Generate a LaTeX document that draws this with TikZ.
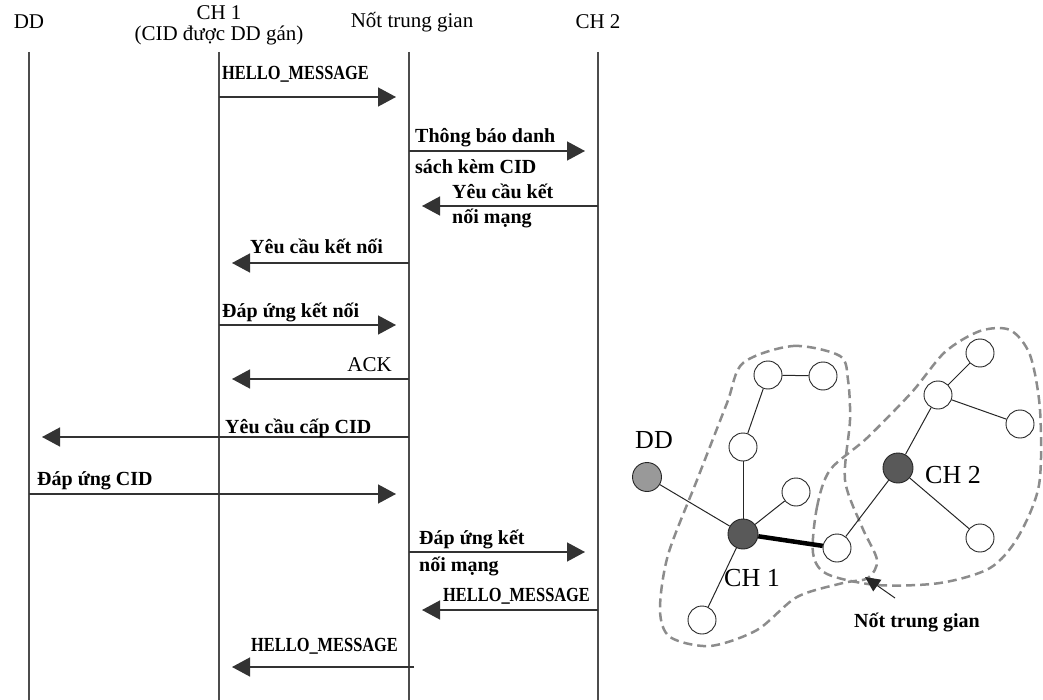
\documentclass[tikz,border=0pt]{standalone}
\usepackage{fontspec}
\setmainfont{Liberation Serif}
\usetikzlibrary{arrows.meta,positioning}

\newcommand{\hmsg}{\scalebox{0.82}[1]{HELLO\_MESSAGE}}

\tikzset{
	lifeline/.style={draw=black!70, line width=1.2pt},
	msg/.style={draw=black!80, line width=1.4pt, -{Triangle[length=18pt,width=19pt]}, shorten >=13pt},
	lbl/.style={font=\bfseries\fontsize{20}{22}\selectfont, inner sep=0pt, anchor=west},
	hello/.style={font=\bfseries\fontsize{20}{22}\selectfont, inner sep=0pt, anchor=west},
	head/.style={font=\fontsize{21}{24}\selectfont, inner sep=0pt},
	glbl/.style={font=\fontsize{26}{28}\selectfont, inner sep=0pt},
	wnode/.style={circle, draw=black!85, line width=0.9pt, fill=white, minimum size=28pt, inner sep=0pt},
	chnode/.style={circle, draw=black!85, line width=0.9pt, fill=black!65, minimum size=30pt, inner sep=0pt},
	ddnode/.style={circle, draw=black!85, line width=0.9pt, fill=black!40, minimum size=29pt, inner sep=0pt},
	link/.style={draw=black!85, line width=1pt},
	cluster/.style={draw=black!45, line width=2.5pt, dash pattern=on 9pt off 5pt},
}

\begin{document}
\begin{tikzpicture}[x=1pt, y=-1pt]
	\useasboundingbox (0,0) rectangle (1043,700);
	% heads of the lifelines
	\node[head] (hdd) at (29,22) {DD};
	\node[head] (hch1) at (219,13) {CH 1};
	\node[head] (hcid) at (219,35) {(CID được DD gán)};
	\node[head] (hnt) at (412,22) {Nốt trung gian};
	\node[head] (hch2) at (598,22) {CH 2};
	% lifelines
	\coordinate (dd) at (29,52);
	\coordinate (ch1) at (219,52);
	\coordinate (nt) at (409,52);
	\coordinate (ch2) at (598,52);
	\coordinate (bot) at (0,700);
	\draw[lifeline] (dd) -- (dd |- bot);
	\draw[lifeline] (ch1) -- (ch1 |- bot);
	\draw[lifeline] (nt) -- (nt |- bot);
	\draw[lifeline] (ch2) -- (ch2 |- bot);
	% message rows
	\coordinate (m1) at (0,97);
	\coordinate (m2) at (0,151);
	\coordinate (m3) at (0,206);
	\coordinate (m4) at (0,263);
	\coordinate (m5) at (0,325);
	\coordinate (m6) at (0,379);
	\coordinate (m7) at (0,437);
	\coordinate (m8) at (0,494);
	\coordinate (m9) at (0,552);
	\coordinate (m10) at (0,610);
	\coordinate (m11) at (0,667);
	\draw[msg] (ch1 |- m1) -- (nt |- m1);
	\draw[msg] (nt |- m2) -- (ch2 |- m2);
	\draw[msg] (ch2 |- m3) -- (nt |- m3);
	\draw[msg] (nt |- m4) -- (ch1 |- m4);
	\draw[msg] (ch1 |- m5) -- (nt |- m5);
	\draw[msg] (nt |- m6) -- (ch1 |- m6);
	\draw[msg] (nt |- m7) -- (dd |- m7);
	\draw[msg] (dd |- m8) -- (nt |- m8);
	\draw[msg] (nt |- m9) -- (ch2 |- m9);
	\draw[msg] (ch2 |- m10) -- (nt |- m10);
	\draw[msg, shorten <=-5pt] (nt |- m11) -- (ch1 |- m11);
	% message labels
	\node[hello] (l1) at (222,74) {\hmsg};
	\node[lbl] (l2a) at (415,138) {Thông báo danh};
	\node[lbl] (l2b) at (415,167) {sách kèm CID};
	\node[lbl] (l3a) at (452,191) {Yêu cầu kết};
	\node[lbl] (l3b) at (452,218) {nối mạng};
	\node[lbl] (l4) at (250,246) {Yêu cầu kết nối};
	\node[lbl] (l5) at (222,312) {Đáp ứng kết nối};
	\node[head, anchor=east] (l6) at (392,365) {ACK};
	\node[lbl] (l7) at (225,428) {Yêu cầu cấp CID};
	\node[lbl] (l8) at (37,481) {Đáp ứng CID};
	\node[lbl] (l9a) at (419,539) {Đáp ứng kết};
	\node[lbl] (l9b) at (419,566) {nối mạng};
	\node[hello] (l10) at (443,596) {\hmsg};
	\node[hello] (l11) at (251,646) {\hmsg};
	% clusters
	\draw[cluster] plot[smooth cycle] coordinates {(743,363) (793,346) (840,356) (848,380) (850,420) (845,480) (862,527) (877,560) (868,578) (843,583) (797,597) (757,630) (710,646) (670,637) (660,610) (668,555) (697,480) (727,403)};
	\draw[cluster] plot[smooth cycle] coordinates {(813,553) (817,507) (830,470) (867,438) (912,392) (945,352) (980,331) (1010,330) (1030,355) (1040,410) (1039,485) (1018,537) (990,568) (940,583) (877,585) (827,574)};
	% graph nodes
	\node[ddnode] (gdd) at (647,477) {};
	\node[chnode] (gch1) at (743,534) {};
	\node[chnode] (gch2) at (898,468) {};
	\node[wnode] (a) at (768,375) {};
	\node[wnode] (b) at (823,376) {};
	\node[wnode] (c) at (743,447) {};
	\node[wnode] (d) at (796,492) {};
	\node[wnode] (e) at (837,548) {};
	\node[wnode] (f) at (702,620) {};
	\node[wnode] (g) at (980,353) {};
	\node[wnode] (h) at (938,395) {};
	\node[wnode] (i) at (1020,424) {};
	\node[wnode] (j) at (980,538) {};
	% graph links
	\draw[link] (a) -- (b);
	\draw[link] (a) -- (c);
	\draw[link] (c) -- (gch1);
	\draw[link] (gdd) -- (gch1);
	\draw[link] (gch1) -- (d);
	\draw[link] (gch1) -- (f);
	\draw[draw=black, line width=4.5pt] (gch1) -- (e);
	\draw[link] (e) -- (gch2);
	\draw[link] (gch2) -- (h);
	\draw[link] (h) -- (g);
	\draw[link] (h) -- (i);
	\draw[link] (gch2) -- (j);
	% graph labels
	\node[glbl] (tdd) at (654,440) {DD};
	\node[glbl, anchor=west] (tch2) at (925,475) {CH 2};
	\node[glbl] (tch1) at (752,578) {CH 1};
	\node[lbl, anchor=center] (tnt) at (917,622) {Nốt trung gian};
	\coordinate (ntail) at (895,598);
	\coordinate (ntip) at (865,577);
	\draw[link, -{Triangle[length=15pt,width=14pt]}] (ntail) -- (ntip);
\end{tikzpicture}
\end{document}
